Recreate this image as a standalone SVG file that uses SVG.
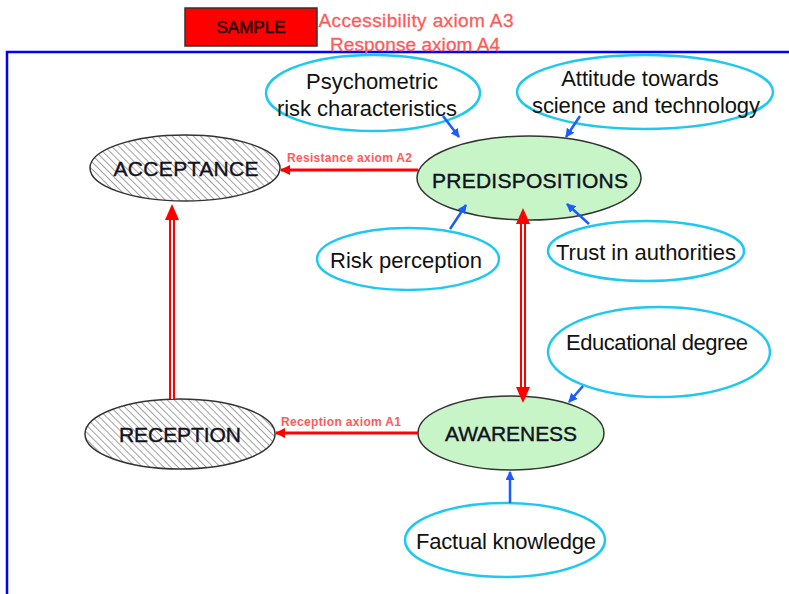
<svg xmlns="http://www.w3.org/2000/svg" width="789" height="594" viewBox="0 0 789 594">
<defs>
<pattern id="hatch" width="5" height="5" patternUnits="userSpaceOnUse" patternTransform="rotate(-45)">
<rect width="5" height="5" fill="#ffffff"/>
<line x1="0" y1="0" x2="0" y2="5" stroke="#8a8a8a" stroke-width="1.6"/>
</pattern>
<marker id="redHead" viewBox="0 0 10 10" refX="9" refY="5" markerWidth="10" markerHeight="10" markerUnits="userSpaceOnUse" orient="auto">
<path d="M0,0 L10,5 L0,10 Z" fill="#ff0000"/>
</marker>
<marker id="blueHead" viewBox="0 0 10 10" refX="9" refY="5" markerWidth="9" markerHeight="9" markerUnits="userSpaceOnUse" orient="auto">
<path d="M0,0 L10,5 L0,10 Z" fill="#1a5cff"/>
</marker>
</defs>
<style>
.cyan{fill:#ffffff;stroke:#1ec8f0;stroke-width:2.5}
.hatch{fill:url(#hatch);stroke:#333333;stroke-width:1.5}
.green{fill:#c8f5c8;stroke:#333333;stroke-width:1.5}
.t{font-family:"Liberation Sans",Arial,sans-serif;fill:#111111;text-anchor:middle;font-size:22px}
.cap{font-family:"Liberation Sans",Arial,sans-serif;fill:#111122;text-anchor:middle;font-size:21px;stroke:#111122;stroke-width:0.4}
.lbl{font-family:"Liberation Sans",Arial,sans-serif;fill:#ff5a5a;font-size:12px;font-weight:bold}
.ax{font-family:"Liberation Sans",Arial,sans-serif;fill:#ff5a5a;text-anchor:middle;font-size:19px;stroke:#ff5a5a;stroke-width:0.3}
.redline{stroke:#ff0000;stroke-width:3;fill:none}
.dbl{stroke:#ff0000;stroke-width:6;fill:none}
.dblin{stroke:#ffffff;stroke-width:2;fill:none}
.blue{stroke:#1a5cff;stroke-width:2.5;fill:none}
</style>
<rect width="789" height="594" fill="#ffffff"/>
<path d="M7,594 L7,52 L789,52" fill="none" stroke="#0000ff" stroke-width="2.5"/>
<g id="sample">
<rect x="185" y="8" width="132" height="38" fill="#ff0000" stroke="#333333" stroke-width="1.5"/>
<text x="251" y="33" font-family="Liberation Sans, Arial, sans-serif" text-anchor="middle" font-size="17" fill="#220000" stroke="#220000" stroke-width="0.5">SAMPLE</text>
</g>
<g id="axioms">
<text x="416" y="27" class="ax" textLength="195">Accessibility axiom A3</text>
<text x="415" y="51" class="ax" textLength="170">Response axiom A4</text>
</g>
<g id="psychometric">
<ellipse cx="373" cy="93" rx="107" ry="38" class="cyan"/>
<text x="372" y="89" class="t">Psychometric</text>
<text x="367" y="116" class="t" textLength="180">risk characteristics</text>
</g>
<g id="attitude">
<ellipse cx="645" cy="92" rx="128" ry="37" class="cyan"/>
<text x="640" y="86" class="t">Attitude towards</text>
<text x="646" y="113" class="t" textLength="228">science and technology</text>
</g>
<g id="acceptance">
<ellipse cx="185" cy="168" rx="95" ry="33" class="hatch"/>
<text x="186" y="176" class="cap" textLength="145">ACCEPTANCE</text>
</g>
<g id="predispositions">
<ellipse cx="529" cy="178" rx="112" ry="42" class="green"/>
<text x="530" y="188" class="cap" textLength="196">PREDISPOSITIONS</text>
</g>
<g id="risk">
<ellipse cx="408" cy="259" rx="91" ry="31" class="cyan"/>
<text x="406" y="268" class="t" textLength="152">Risk perception</text>
</g>
<g id="trust">
<ellipse cx="646" cy="251" rx="98" ry="30" class="cyan"/>
<text x="646" y="260" class="t" textLength="180">Trust in authorities</text>
</g>
<g id="education">
<ellipse cx="659" cy="352" rx="111" ry="45" class="cyan"/>
<text x="657" y="350" class="t" textLength="182">Educational degree</text>
</g>
<g id="reception">
<ellipse cx="180" cy="434" rx="95" ry="35" class="hatch"/>
<text x="180" y="442" class="cap" textLength="122">RECEPTION</text>
</g>
<g id="awareness">
<ellipse cx="511" cy="433" rx="93" ry="37" class="green"/>
<text x="511" y="441" class="cap" textLength="132">AWARENESS</text>
</g>
<g id="factual">
<ellipse cx="505" cy="540" rx="100" ry="37" class="cyan"/>
<text x="506" y="549" class="t" textLength="180">Factual knowledge</text>
</g>
<g id="connectors">
<line x1="418" y1="170" x2="281" y2="170" class="redline" marker-end="url(#redHead)"/>
<text x="287" y="162" class="lbl" textLength="125">Resistance axiom A2</text>
<line x1="418" y1="433" x2="276" y2="433" class="redline" marker-end="url(#redHead)"/>
<text x="281" y="426" class="lbl" textLength="120">Reception axiom A1</text>
<line x1="172" y1="399" x2="172" y2="218" class="dbl"/>
<line x1="172" y1="399" x2="172" y2="218" class="dblin"/>
<path d="M165,220 L172,204 L179,220 Z" fill="#ff0000"/>
<line x1="523" y1="222" x2="523" y2="389" class="dbl"/>
<line x1="523" y1="222" x2="523" y2="389" class="dblin"/>
<path d="M516,224 L523,208 L530,224 Z" fill="#ff0000"/>
<path d="M516,387 L523,403 L530,387 Z" fill="#ff0000"/>
<line x1="443" y1="116" x2="459" y2="137" class="blue" marker-end="url(#blueHead)"/>
<line x1="580" y1="116" x2="566" y2="137" class="blue" marker-end="url(#blueHead)"/>
<line x1="450" y1="229" x2="466" y2="205" class="blue" marker-end="url(#blueHead)"/>
<line x1="589" y1="224" x2="567" y2="204" class="blue" marker-end="url(#blueHead)"/>
<line x1="583" y1="386" x2="569" y2="402" class="blue" marker-end="url(#blueHead)"/>
<line x1="510" y1="503" x2="510" y2="472" class="blue" marker-end="url(#blueHead)"/>
</g>
</svg>
